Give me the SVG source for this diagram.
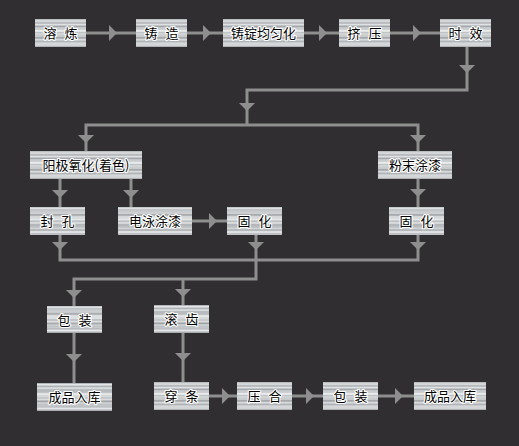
<svg xmlns="http://www.w3.org/2000/svg" width="519" height="446" viewBox="0 0 519 446">
<defs>
<linearGradient id="metal" x1="0" y1="0" x2="0" y2="1">
<stop offset="0" stop-color="#a9adb0"/>
<stop offset="0.06" stop-color="#e4e6e7"/>
<stop offset="0.12" stop-color="#b4b8bb"/>
<stop offset="0.2" stop-color="#d9dcdd"/>
<stop offset="0.27" stop-color="#a6aaad"/>
<stop offset="0.35" stop-color="#cfd2d4"/>
<stop offset="0.43" stop-color="#eceeee"/>
<stop offset="0.5" stop-color="#bfc3c5"/>
<stop offset="0.58" stop-color="#dadcdd"/>
<stop offset="0.66" stop-color="#a4a8ab"/>
<stop offset="0.74" stop-color="#d3d6d7"/>
<stop offset="0.82" stop-color="#b0b4b7"/>
<stop offset="0.9" stop-color="#e6e8e9"/>
<stop offset="1" stop-color="#a3a7aa"/>
</linearGradient>
<pattern id="brush" width="6" height="3" patternUnits="userSpaceOnUse">
<rect width="6" height="1" fill="#ffffff" opacity="0.18"/>
<rect y="2" width="6" height="1" fill="#7c8083" opacity="0.12"/>
</pattern>
<marker id="ar" viewBox="0 0 8 16" refX="8" refY="8" markerWidth="8" markerHeight="16" markerUnits="userSpaceOnUse" orient="auto">
<path d="M0,0 L8,8 L0,16 Z" fill="#8e8e8e"/>
</marker>
</defs>
<style>
.bg{fill:#302e30}
.box rect.b{fill:url(#metal)}
.box rect.s{fill:url(#brush)}
.box text{font-family:"Noto Sans CJK SC","Noto Sans",sans-serif;font-size:13px;fill:#000;stroke:#fff;stroke-width:2.2px;paint-order:stroke;stroke-linejoin:round;text-anchor:middle;word-spacing:5px}
.c{fill:none;stroke:#8e8e8e;stroke-width:3}
.ah{fill:#8e8e8e}
</style>
<rect class="bg" width="519" height="446"/>

<g id="connectors">
<path class="c" d="M86,33 H136 M187,33 H223 M304,33 H339 M390,33 H440"/>
<path class="c" d="M467,47 V90 H247 V125"/>
<path class="c" d="M86,151 V125 H418 V151"/>
<path class="c" d="M60,179 V207 M131,179 V207 M418,179 V207"/>
<path class="c" d="M192,221 H227"/>
<path class="c" d="M60,235 V260 H418 V235 M256,235 V279 H74 V306 M183,279 V305"/>
<path class="c" d="M74,333 V383 M183,333 V382"/>
<path class="c" d="M209,396 H237 M292,396 H323 M378,396 H414"/>
<g class="ah">
<path d="M109,25 L117,33 L109,41 Z"/>
<path d="M203,25 L211,33 L203,41 Z"/>
<path d="M319,25 L327,33 L319,41 Z"/>
<path d="M413,25 L421,33 L413,41 Z"/>
<path d="M459,65 L467,73 L475,65 Z"/>
<path d="M239,103 L247,111 L255,103 Z"/>
<path d="M78,135 L86,143 L94,135 Z"/>
<path d="M410,135 L418,143 L426,135 Z"/>
<path d="M52,190 L60,198 L68,190 Z"/>
<path d="M123,190 L131,198 L139,190 Z"/>
<path d="M410,189 L418,197 L426,189 Z"/>
<path d="M209,213 L217,221 L209,229 Z"/>
<path d="M52,242 L60,250 L68,242 Z"/>
<path d="M248,242 L256,250 L264,242 Z"/>
<path d="M410,242 L418,250 L426,242 Z"/>
<path d="M66,290 L74,298 L82,290 Z"/>
<path d="M175,289 L183,297 L191,289 Z"/>
<path d="M66,354 L74,362 L82,354 Z"/>
<path d="M175,353 L183,361 L191,353 Z"/>
<path d="M222,388 L230,396 L222,404 Z"/>
<path d="M306,388 L314,396 L306,404 Z"/>
<path d="M395,388 L403,396 L395,404 Z"/>
</g>
</g>

<g id="n1" class="box"><rect class="b" x="35" y="19" width="51" height="28"/><rect class="s" x="35" y="19" width="51" height="28"/><text x="60.5" y="38">溶 炼</text></g>
<g id="n2" class="box"><rect class="b" x="136" y="19" width="51" height="28"/><rect class="s" x="136" y="19" width="51" height="28"/><text x="161.5" y="38">铸 造</text></g>
<g id="n3" class="box"><rect class="b" x="223" y="19" width="81" height="28"/><rect class="s" x="223" y="19" width="81" height="28"/><text x="263.5" y="38">铸锭均匀化</text></g>
<g id="n4" class="box"><rect class="b" x="339" y="19" width="51" height="28"/><rect class="s" x="339" y="19" width="51" height="28"/><text x="364.5" y="38">挤 压</text></g>
<g id="n5" class="box"><rect class="b" x="440" y="19" width="51" height="28"/><rect class="s" x="440" y="19" width="51" height="28"/><text x="465.5" y="38">时 效</text></g>
<g id="n6" class="box"><rect class="b" x="30" y="151" width="112" height="28"/><rect class="s" x="30" y="151" width="112" height="28"/><text x="86" y="170">阳极氧化(着色)</text></g>
<g id="n7" class="box"><rect class="b" x="378" y="151" width="74" height="28"/><rect class="s" x="378" y="151" width="74" height="28"/><text x="415" y="170">粉末涂漆</text></g>
<g id="n8" class="box"><rect class="b" x="30" y="207" width="55" height="28"/><rect class="s" x="30" y="207" width="55" height="28"/><text x="57.5" y="226">封 孔</text></g>
<g id="n9" class="box"><rect class="b" x="118" y="207" width="74" height="28"/><rect class="s" x="118" y="207" width="74" height="28"/><text x="155" y="226">电泳涂漆</text></g>
<g id="n10" class="box"><rect class="b" x="227" y="207" width="55" height="28"/><rect class="s" x="227" y="207" width="55" height="28"/><text x="254.5" y="226">固 化</text></g>
<g id="n11" class="box"><rect class="b" x="389" y="207" width="55" height="28"/><rect class="s" x="389" y="207" width="55" height="28"/><text x="416.5" y="226">固 化</text></g>
<g id="n12" class="box"><rect class="b" x="47" y="306" width="55" height="27"/><rect class="s" x="47" y="306" width="55" height="27"/><text x="74.5" y="324.5">包 装</text></g>
<g id="n13" class="box"><rect class="b" x="154" y="305" width="55" height="28"/><rect class="s" x="154" y="305" width="55" height="28"/><text x="181.5" y="324">滚 齿</text></g>
<g id="n14" class="box"><rect class="b" x="37" y="383" width="75" height="28"/><rect class="s" x="37" y="383" width="75" height="28"/><text x="74.5" y="402">成品入库</text></g>
<g id="n15" class="box"><rect class="b" x="154" y="382" width="55" height="28"/><rect class="s" x="154" y="382" width="55" height="28"/><text x="181.5" y="401">穿 条</text></g>
<g id="n16" class="box"><rect class="b" x="237" y="382" width="55" height="28"/><rect class="s" x="237" y="382" width="55" height="28"/><text x="264.5" y="401">压 合</text></g>
<g id="n17" class="box"><rect class="b" x="323" y="382" width="55" height="28"/><rect class="s" x="323" y="382" width="55" height="28"/><text x="350.5" y="401">包 装</text></g>
<g id="n18" class="box"><rect class="b" x="414" y="382" width="72" height="28"/><rect class="s" x="414" y="382" width="72" height="28"/><text x="450" y="401">成品入库</text></g>
</svg>
